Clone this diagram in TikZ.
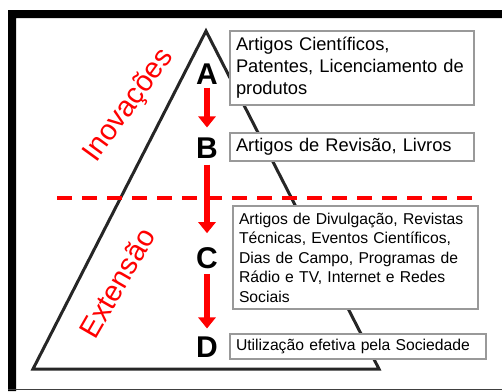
\documentclass[tikz,border=0pt]{standalone}
\usepackage{fontspec}
\setmainfont{Liberation Sans}
\usetikzlibrary{arrows.meta,positioning}

\tikzset{
  letter/.style={font=\fontsize{30}{30}\selectfont\bfseries,inner sep=2pt},
  flow/.style={red,line width=6pt,-{Triangle[width=17pt,length=11pt]}},
  side/.style={red,font=\fontsize{29}{29}\selectfont,inner sep=0pt,anchor=base},
  infobox/.style={draw=black!40,fill=white,line width=1.2pt,align=left,inner xsep=6pt,inner ysep=0pt},
}

\begin{document}
\begin{tikzpicture}[x=1pt,y=-1pt]
        \useasboundingbox (0,0) rectangle (502,391);
        % frame
        \fill (8,10) rectangle (502,18) (8,10) rectangle (16,391);
        \draw[line width=1.5pt,black!75] (8,389.5) to (502,389.5);
        % pyramid
        \draw[line width=3pt,black!85,line join=miter] (206,31) -- (379,369) -- (33,369) -- cycle;
        \draw[red,line width=4pt,dash pattern=on 15pt off 10pt] (57,198) to (478,198);
        \node[side,rotate=54] (inov) at (135,110) {Inovações};
        \node[side,rotate=60] (ext) at (126,288) {Extensão};
        % levels
        \node[letter] (A) at (207,74) {A};
        \node[letter] (B) at (207,148) {B};
        \node[letter] (C) at (207,258) {C};
        \node[letter] (D) at (207,347) {D};
        \draw[flow,shorten >=8pt,shorten <=1pt] (A) -- (B);
        \draw[flow,shorten >=12pt,shorten <=4pt] (B) -- (C);
        \draw[flow,shorten >=6pt,shorten <=3pt] (C) -- (D);
        {
          \fontsize{18.3}{22}\selectfont
          \node[infobox,text width=232pt,minimum height=74pt] (boxA) at (352,68)
            {Artigos Científicos,\\Patentes, Licenciamento de\\produtos};
          \node[infobox,text width=232pt,minimum height=28pt] (boxB) at (352,147)
            {Artigos de Revisão, Livros};
        }
        {
          \fontsize{15.7}{19.5}\selectfont
          \node[infobox,text width=233pt,minimum height=103pt] (boxC) at (355.5,257.5)
            {Artigos de Divulgação, Revistas\\Técnicas, Eventos Científicos,\\Dias de Campo, Programas de\\Rádio e TV, Internet e Redes\\Sociais};
          \node[infobox,text width=244pt,minimum height=25pt] (boxD) at (358,346.5)
            {Utilização efetiva pela Sociedade};
        }
      \end{tikzpicture}
\end{document}
